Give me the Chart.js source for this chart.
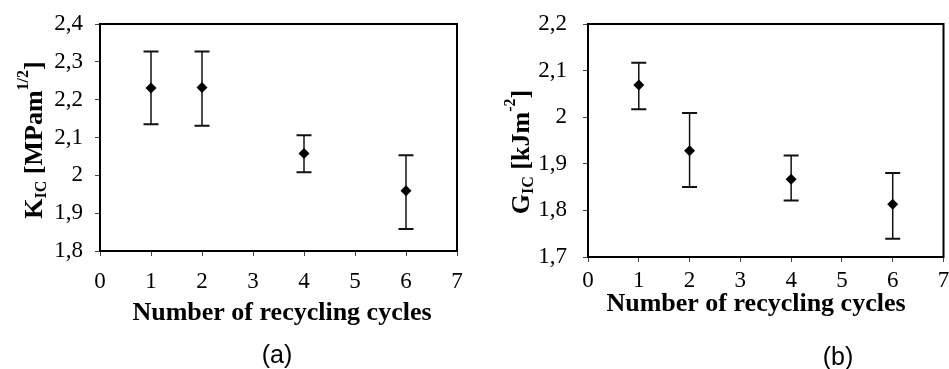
<!DOCTYPE html>
<html>
<head>
<meta charset="utf-8">
<script src="https://cdn.jsdelivr.net/npm/chart.js@4/dist/chart.umd.min.js"></script>
<style>
  html, body { margin: 0; padding: 0; background: #fff; }
  #wrap { position: relative; width: 949px; height: 369px; overflow: hidden; }
  canvas { position: absolute; top: 0; }
</style>
</head>
<body>
<div id="wrap">
  <canvas id="chartA" width="475" height="369" style="left:0"></canvas>
  <canvas id="chartB" width="474" height="369" style="left:475px"></canvas>
</div>
<script>
// x values: number of recycling cycles
const cycles = [1, 2, 4, 6];

// (a) K_IC [MPa m^1/2]
const kicMean  = [2.231, 2.232, 2.058, 1.959];
const kicUpper = [2.327, 2.327, 2.106, 2.053];
const kicLower = [2.135, 2.131, 2.008, 1.858];

// (b) G_IC [kJ m^-2]
const gicMean  = [2.069, 1.928, 1.867, 1.813];
const gicUpper = [2.117, 2.009, 1.918, 1.880];
const gicLower = [2.017, 1.850, 1.821, 1.739];

const serif = "'Liberation Serif', 'Times New Roman', serif";

function commaTick(v) {
  return String(+v.toFixed(1)).replace('.', ',');
}

// draws text pieces one after another (for sub/superscripts)
function drawPieces(ctx, pieces, startX, baseY) {
  let x = startX;
  pieces.forEach(p => {
    ctx.font = p.font;
    ctx.fillText(p.t, x, baseY + (p.dy || 0));
    x += ctx.measureText(p.t).width;
  });
}
function piecesWidth(ctx, pieces) {
  let w = 0;
  pieces.forEach(p => { ctx.font = p.font; w += ctx.measureText(p.t).width; });
  return w;
}

function makeChart(id, cfg) {
  const labelsPlugin = {
    id: 'extras',
    beforeDatasetsDraw(chart) {
      // error bars
      const ctx = chart.ctx;
      const xs = chart.scales.x, ys = chart.scales.y;
      ctx.save();
      ctx.strokeStyle = '#111';
      cfg.mean.forEach((m, i) => {
        const x = xs.getPixelForValue(cycles[i]);
        const yU = ys.getPixelForValue(cfg.upper[i]);
        const yL = ys.getPixelForValue(cfg.lower[i]);
        ctx.lineWidth = 1.5;
        ctx.beginPath();
        ctx.moveTo(x, yU); ctx.lineTo(x, yL);
        ctx.stroke();
        ctx.lineWidth = 2;
        ctx.beginPath();
        ctx.moveTo(x - 7.5, yU); ctx.lineTo(x + 7.5, yU);
        ctx.moveTo(x - 7.5, yL); ctx.lineTo(x + 7.5, yL);
        ctx.stroke();
      });
      ctx.restore();
    },
    afterDraw(chart) {
      const ctx = chart.ctx;
      const a = chart.chartArea;
      ctx.save();
      // plot frame
      ctx.strokeStyle = '#000';
      ctx.lineWidth = 2;
      ctx.strokeRect(a.left, a.top, a.right - a.left, a.bottom - a.top);

      ctx.fillStyle = '#000';
      // x axis title
      ctx.font = 'bold 26px ' + serif;
      ctx.textAlign = 'center';
      ctx.textBaseline = 'alphabetic';
      ctx.fillText('Number of recycling cycles', cfg.xTitle[0], cfg.xTitle[1]);

      // panel letter
      ctx.font = "25px 'Liberation Sans', Arial, sans-serif";
      ctx.fillText(cfg.panel, cfg.panelPos[0], cfg.panelPos[1]);

      // rotated y title with sub/superscript
      ctx.textAlign = 'left';
      const w = piecesWidth(ctx, cfg.yTitle);
      ctx.translate(cfg.yTitlePos[0], cfg.yTitlePos[1]);
      ctx.rotate(-Math.PI / 2);
      drawPieces(ctx, cfg.yTitle, -w / 2, 0);
      ctx.restore();
    }
  };

  return new Chart(document.getElementById(id), {
    type: 'scatter',
    data: {
      datasets: [{
        data: cycles.map((c, i) => ({ x: c, y: cfg.mean[i] })),
        pointStyle: 'rectRot',
        pointRadius: 5.5,
        pointHoverRadius: 5.5,
        backgroundColor: '#000',
        borderColor: '#000',
        borderWidth: 0
      }]
    },
    options: {
      responsive: false,
      animation: false,
      events: [],
      layout: { padding: { left: 0, top: cfg.top, right: cfg.right, bottom: 0 } },
      plugins: { legend: { display: false }, tooltip: { enabled: false } },
      scales: {
        x: {
          type: 'linear', min: 0, max: 7,
          border: { display: false },
          grid: { drawOnChartArea: false, drawTicks: true, tickLength: 5, color: '#444', lineWidth: 1 },
          ticks: { stepSize: 1, padding: cfg.xPad, color: '#000', font: { family: serif, size: 23 }, maxRotation: 0 },
          afterFit(s) { s.height = cfg.xHeight; s.paddingLeft = 0; s.paddingRight = 0; }
        },
        y: {
          type: 'linear', min: cfg.yMin, max: cfg.yMax,
          border: { display: false },
          grid: { drawOnChartArea: false, drawTicks: true, tickLength: 5, color: '#444', lineWidth: 1 },
          ticks: { stepSize: 0.1, padding: cfg.yPad, color: '#000', font: { family: serif, size: 23 }, callback: commaTick },
          afterFit(s) { s.width = cfg.yWidth; s.paddingTop = 0; s.paddingBottom = 0; }
        }
      }
    },
    plugins: [labelsPlugin]
  });
}

const big = 'bold 26px ' + serif;
const small = 'bold 16px ' + serif;

makeChart('chartA', {
  mean: kicMean, upper: kicUpper, lower: kicLower,
  yMin: 1.8, yMax: 2.4,
  top: 24, right: 18, yWidth: 100, xHeight: 118, xPad: 12, yPad: 12,
  xTitle: [282, 320], panel: '(a)', panelPos: [277, 363],
  yTitlePos: [42, 140],
  yTitle: [
    { t: 'K', font: big },
    { t: 'IC', font: small, dy: 4 },
    { t: ' [MPam', font: big },
    { t: '1/2', font: small, dy: -14 },
    { t: ']', font: big }
  ]
});

makeChart('chartB', {
  mean: gicMean, upper: gicUpper, lower: gicLower,
  yMin: 1.7, yMax: 2.2,
  top: 24, right: 2, yWidth: 113, xHeight: 112, xPad: 5, yPad: 16,
  xTitle: [281, 311], panel: '(b)', panelPos: [363, 365],
  yTitlePos: [54, 152],
  yTitle: [
    { t: 'G', font: big },
    { t: 'IC', font: small, dy: 4 },
    { t: ' [kJm', font: big },
    { t: '-2', font: small, dy: -14 },
    { t: ']', font: big }
  ]
});
</script>
</body>
</html>
